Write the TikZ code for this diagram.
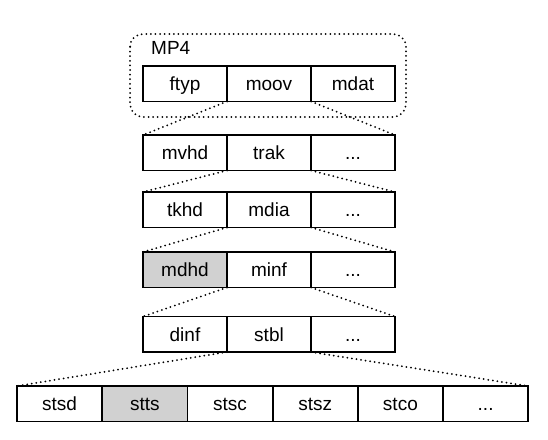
\documentclass[tikz,border=0pt]{standalone}
\usepackage{fontspec}
\setmainfont{Liberation Sans}
\begin{document}
\begin{tikzpicture}[x=1pt,y=1pt,
  cell/.style={draw=black, line width=1.8pt, anchor=north west, inner sep=0pt, outer sep=0pt,
    minimum height=35.5pt, text height=14pt, text depth=0pt, font=\fontsize{19}{22}\selectfont},
  topcell/.style={cell, minimum width=84pt},
  botcell/.style={cell, minimum width=85.2pt},
  hl/.style={fill=black!18},
  dots/.style={line width=2pt, line cap=round, dash pattern=on 0pt off 4.6pt}]
\useasboundingbox (0,0) rectangle (548,-439);
% container
\draw[dots, rounded corners=13pt] (130,-34) rectangle (406,-117);
\node[anchor=west, inner sep=0pt, font=\fontsize{19}{22}\selectfont] (mp4) at (151,-47.5) {MP4};
% row 1
\node[topcell] (ftyp) at (143,-66) {ftyp};
\node[topcell] (moov) at (227,-66) {moov};
\node[topcell] (mdat) at (311,-66) {mdat};
% row 2
\node[topcell] (mvhd) at (143,-135) {mvhd};
\node[topcell] (trak) at (227,-135) {trak};
\node[topcell] (r2e) at (311,-135) {...};
% row 3
\node[topcell] (tkhd) at (143,-192) {tkhd};
\node[topcell] (mdia) at (227,-192) {mdia};
\node[topcell] (r3e) at (311,-192) {...};
% row 4
\node[topcell, hl] (mdhd) at (143,-252) {mdhd};
\node[topcell] (minf) at (227,-252) {minf};
\node[topcell] (r4e) at (311,-252) {...};
% row 5
\node[topcell] (dinf) at (143,-316.5) {dinf};
\node[topcell] (stbl) at (227,-316.5) {stbl};
\node[topcell] (r5e) at (311,-316.5) {...};
% row 6
\node[botcell] (stsd) at (17,-386) {stsd};
\node[botcell, hl] (stts) at (102.2,-386) {stts};
\node[botcell] (stsc) at (187.4,-386) {stsc};
\node[botcell] (stsz) at (272.6,-386) {stsz};
\node[botcell] (stco) at (357.8,-386) {stco};
\node[botcell] (r6e) at (443,-386) {...};
% connectors
\draw[dots] (moov.south west) -- (mvhd.north west);
\draw[dots] (moov.south east) -- (r2e.north east);
\draw[dots] (trak.south west) -- (tkhd.north west);
\draw[dots] (trak.south east) -- (r3e.north east);
\draw[dots] (mdia.south west) -- (mdhd.north west);
\draw[dots] (mdia.south east) -- (r4e.north east);
\draw[dots] (minf.south west) -- (dinf.north west);
\draw[dots] (minf.south east) -- (r5e.north east);
\draw[dots] (stbl.south west) -- (stsd.north west);
\draw[dots] (stbl.south east) -- (r6e.north east);
\end{tikzpicture}
\end{document}
